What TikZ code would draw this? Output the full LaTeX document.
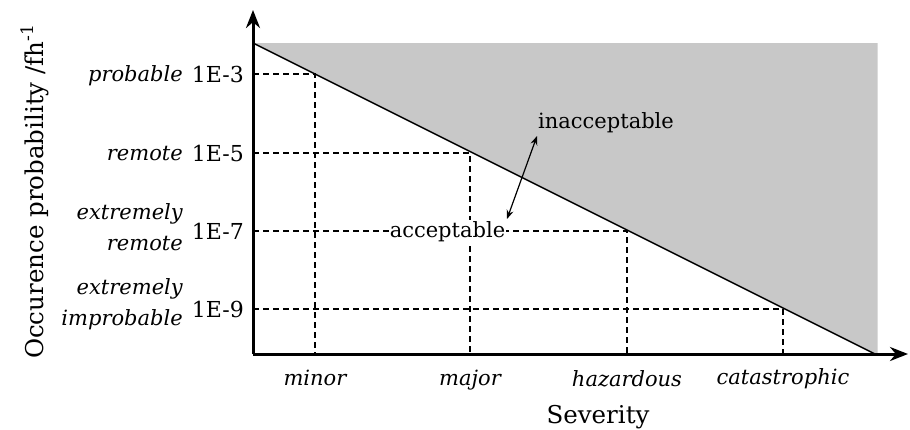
\documentclass[tikz,border=0pt]{standalone}
\usepackage{fontspec}
\setmainfont{DejaVu Serif}
\usetikzlibrary{arrows.meta}
\definecolor{regiongray}{RGB}{200,200,200}
\begin{document}
\begin{tikzpicture}[x=1pt,y=-1pt,
  num/.style={font=\fontsize{22}{26}\selectfont, inner sep=0pt, anchor=base east},
  cat/.style={font=\fontsize{21}{31}\selectfont\itshape, inner sep=0pt, align=right},
  sev/.style={font=\fontsize{21}{24}\selectfont\itshape, inner sep=0pt, anchor=base},
  title/.style={font=\fontsize{24.5}{28}\selectfont, inner sep=0pt, anchor=base},
  region/.style={font=\fontsize{21}{24}\selectfont, inner sep=1pt, anchor=base},
  gridline/.style={dash pattern=on 6pt off 4pt, line width=1.2pt},
  axis/.style={line width=3pt, -{Stealth[length=18pt,width=14pt]}},
  limit/.style={line width=1.4pt},
  dbl/.style={line width=1.2pt, {Stealth[length=9pt,width=7pt]}-{Stealth[length=9pt,width=7pt]}}
]
\useasboundingbox (0,0) rectangle (910,429);
\coordinate (O) at (253,354);
\coordinate (TL) at (253,43);
\coordinate (BR) at (876,354.5);
\coordinate (TR) at (877.5,43);
\coordinate (BRR) at (877.5,354);
\fill[regiongray] (TL) -- (TR) -- (BRR) -- (BR) -- cycle;
% grid points on the limit line
\coordinate (p3) at (315,74);
\coordinate (p5) at (470,153);
\coordinate (p7) at (627,231);
\coordinate (p9) at (783,309);
\draw[gridline] (O |- p3) -- (p3) -- (O -| p3);
\draw[gridline] (O |- p5) -- (p5) -- (O -| p5);
\draw[gridline] (O |- p7) -- (p7) -- (O -| p7);
\draw[gridline] (O |- p9) -- (p9) -- (O -| p9);
\draw[limit] (TL) -- (BR);
% region labels
\node[region, fill=white] (acc) at (447.5,237) {acceptable};
\node[region] (inacc) at (606,128) {inacceptable};
\coordinate (a1) at (537,136);
\coordinate (a2) at (507,219);
\draw[dbl] (a2) -- (a1);
% axes
\coordinate (Xend) at (908,354);
\coordinate (Yend) at (253,10);
\draw[axis] (O) -- (Xend);
\draw[axis] (O) -- (Yend);
% y tick labels
\node[num] (n3) at (244,82) {1E-3};
\node[num] (n5) at (244,161) {1E-5};
\node[num] (n7) at (244,239) {1E-7};
\node[num] (n9) at (244,317) {1E-9};
\node[cat, anchor=base east] (c3) at (183,81) {probable};
\node[cat, anchor=base east] (c5) at (183,160) {remote};
\node[cat, anchor=north east] (c7) at (183,203) {extremely\\remote};
\node[cat, anchor=north east] (c9) at (183,278) {extremely\\improbable};
% x tick labels
\node[sev] (s1) at (315,385) {minor};
\node[sev] (s2) at (470,385) {major};
\node[sev] (s3) at (627,386) {hazardous};
\node[sev] (s4) at (783,384) {catastrophic};
% axis titles
\node[title] (xt) at (598,423) {Severity};
\node[title, rotate=90] (yt) at (43,191.5) {Occurence probability /fh\textsuperscript{-1}};
\end{tikzpicture}
\end{document}
